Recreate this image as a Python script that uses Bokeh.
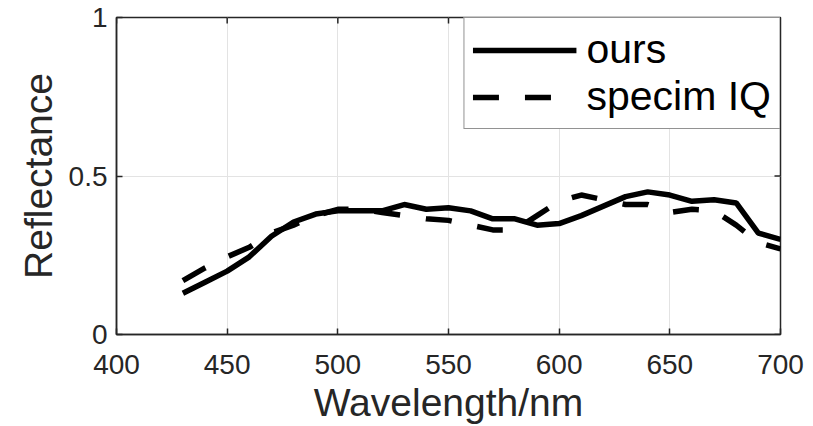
from bokeh.plotting import figure
from bokeh.models import FixedTicker, Range1d
from bokeh.embed import file_html
from bokeh.resources import INLINE

# ---- data ----
wavelength = [430, 440, 450, 460, 470, 480, 490, 500, 510, 520, 530, 540, 550, 560,
              570, 580, 590, 600, 610, 620, 630, 640, 650, 660, 670, 680, 690, 700]
ours = [0.13, 0.165, 0.20, 0.245, 0.31, 0.355, 0.38, 0.39, 0.39, 0.39, 0.41, 0.395, 0.40, 0.39,
        0.365, 0.365, 0.345, 0.35, 0.375, 0.405, 0.435, 0.45, 0.44, 0.42, 0.425, 0.415, 0.32, 0.30]
specim = [0.17, 0.21, 0.245, 0.275, 0.32, 0.345, 0.375, 0.395, 0.395, 0.385, 0.375, 0.365, 0.36, 0.345,
          0.33, 0.33, 0.375, 0.42, 0.44, 0.425, 0.41, 0.41, 0.385, 0.395, 0.39, 0.345, 0.29, 0.27]
x_ticks = [400, 450, 500, 550, 600, 650, 700]
y_ticks = [0, 0.5, 1]
y_tick_labels = {0: "0", 0.5: "0.5", 1: "1"}
series_names = ["ours", "specim IQ"]

FONT = "Liberation Sans"
DARK = "#262626"

W, H = 813, 426
BL, BR, BT, BB = 116, 33, 17, 92
X0, X1, Y0, Y1 = 400, 700, 0, 1

p = figure(width=W, height=H, output_backend="svg", toolbar_location=None,
           x_range=Range1d(X0, X1), y_range=Range1d(Y0, Y1),
           min_border_left=BL, min_border_right=BR, min_border_top=BT, min_border_bottom=BB)
p.background_fill_color = "white"
p.border_fill_color = "white"
p.outline_line_color = DARK
p.outline_line_width = 1.5

# grid
p.xgrid.ticker = FixedTicker(ticks=x_ticks)
p.ygrid.ticker = FixedTicker(ticks=y_ticks)
p.grid.grid_line_color = "#e3e3e3"
p.grid.grid_line_width = 1

p.line(wavelength, ours, line_color="black", line_width=5.5, legend_label=series_names[0])
p.line(wavelength, specim, line_color="black", line_width=5.5, line_dash="26 26",
       legend_label=series_names[1])

# inward ticks on top and right edges (MATLAB "box on")
TICK = 6
dx = TICK * (X1 - X0) / (W - BL - BR)
dy = TICK * (Y1 - Y0) / (H - BT - BB)
p.segment(x0=x_ticks, y0=[Y1] * len(x_ticks), x1=x_ticks, y1=[Y1 - dy] * len(x_ticks),
          line_color=DARK, line_width=1.5)
p.segment(x0=[X1] * len(y_ticks), y0=y_ticks, x1=[X1 - dx] * len(y_ticks), y1=y_ticks,
          line_color=DARK, line_width=1.5)

# axes
p.xaxis.ticker = FixedTicker(ticks=x_ticks)
p.yaxis.ticker = FixedTicker(ticks=y_ticks)
p.yaxis.major_label_overrides = y_tick_labels
p.xaxis.axis_label = "Wavelength/nm"
p.yaxis.axis_label = "Reflectance"
for ax in [p.xaxis[0], p.yaxis[0]]:
    ax.axis_line_color = DARK
    ax.axis_line_width = 1.5
    ax.major_tick_in = TICK
    ax.major_tick_out = 0
    ax.major_tick_line_color = DARK
    ax.major_tick_line_width = 1.5
    ax.minor_tick_line_color = None
    ax.major_label_text_font = FONT
    ax.major_label_text_font_size = "28px"
    ax.major_label_text_color = DARK
    ax.axis_label_text_font = FONT
    ax.axis_label_text_font_style = "normal"
    ax.axis_label_text_font_size = "39px"
    ax.axis_label_text_color = DARK
p.xaxis.major_label_standoff = 20
p.xaxis.axis_label_standoff = 4
p.yaxis.major_label_standoff = 9
p.yaxis.axis_label_standoff = 6

# legend
lg = p.legend[0]
lg.location = "top_right"
lg.margin = 0
lg.padding = 8
lg.spacing = 0
lg.glyph_width = 104
lg.glyph_height = 40
lg.label_standoff = 10
lg.label_text_font = FONT
lg.label_text_font_size = "41px"
lg.label_text_color = "black"
lg.border_line_color = DARK
lg.border_line_width = 1.5
lg.background_fill_color = "white"
lg.background_fill_alpha = 1.0

open("out.html", "w").write(file_html(p, INLINE))
